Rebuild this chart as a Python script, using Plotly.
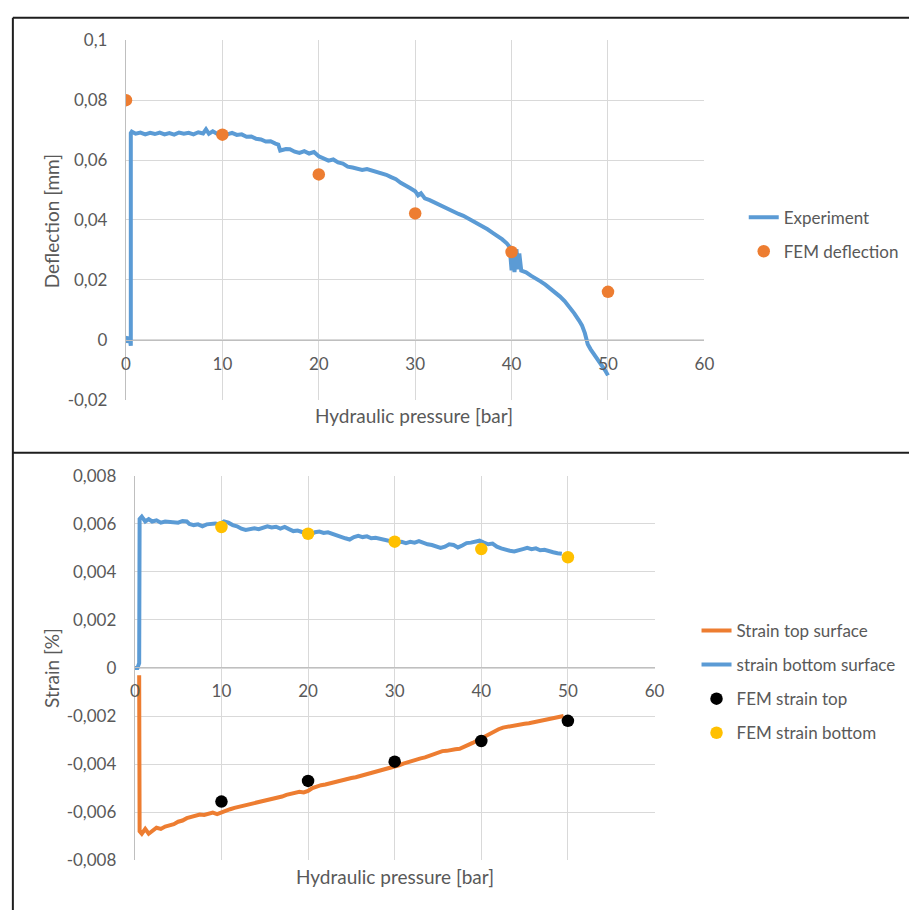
import plotly.graph_objects as go

W, H = 919, 920

# ---------------- data: top chart (deflection) ----------------
EXP_PRESSURE = [
    0.0, 0.15, 0.2, 0.3, 0.35, 0.45, 0.5, 0.5, 0.6, 1.0,
    1.5, 2.0, 2.5, 3.0, 3.5, 4.0, 4.5, 5.0, 5.5, 6.0,
    6.5, 7.0, 7.5, 8.0, 8.3, 8.6, 9.0, 9.5, 10.0, 10.5,
    11.0, 11.5, 12.0, 12.5, 13.0, 13.5, 14.0, 14.5, 15.0, 15.5,
    15.8, 16.0, 16.3, 16.6, 17.0, 17.5, 18.0, 18.5, 19.0, 19.5,
    20.0, 20.5, 21.0, 21.5, 22.0, 22.5, 23.0, 23.5, 24.0, 24.5,
    25.0, 25.5, 26.0, 26.5, 27.0, 27.5, 28.0, 28.5, 29.0, 29.5,
    30.0, 30.3, 30.6, 31.0, 31.5, 32.0, 32.5, 33.0, 33.5, 34.0,
    34.5, 35.0, 35.5, 36.0, 36.5, 37.0, 37.5, 38.0, 38.5, 39.0,
    39.5, 39.8, 40.0, 40.1, 40.3, 40.5, 40.7, 40.8, 41.0, 41.5,
    42.0, 42.5, 43.0, 43.5, 44.0, 44.5, 45.0, 45.5, 46.0, 46.5,
    47.0, 47.3, 47.6, 47.9, 48.2, 48.5, 48.8, 49.1, 49.4, 49.7,
    50.0,
]
EXP_DEFLECTION = [
    0.0, 0.001, -0.001, 0.0, 0.001, -0.001, -0.002, 0.069, 0.0695, 0.0688,
    0.0692, 0.0686, 0.0691, 0.0687, 0.0692, 0.0686, 0.0690, 0.0685, 0.0692, 0.0688,
    0.0691, 0.0686, 0.0693, 0.0689, 0.0703, 0.0688, 0.0696, 0.0687, 0.0692, 0.0686,
    0.0691, 0.0684, 0.0686, 0.0678, 0.0679, 0.0671, 0.0669, 0.0662, 0.0663, 0.0655,
    0.0652, 0.0632, 0.0634, 0.0637, 0.0636, 0.0628, 0.0624, 0.0630, 0.0622, 0.0627,
    0.0613, 0.0607, 0.0598, 0.0602, 0.0592, 0.0588, 0.0578, 0.0575, 0.0572, 0.0567,
    0.0570, 0.0565, 0.0562, 0.0554, 0.0551, 0.0543, 0.0536, 0.0524, 0.0513, 0.0506,
    0.0496, 0.0482, 0.0489, 0.0472, 0.0466, 0.0458, 0.0452, 0.0442, 0.0437, 0.0428,
    0.0420, 0.0414, 0.0405, 0.0398, 0.0388, 0.0379, 0.0369, 0.0358, 0.0348, 0.0336,
    0.0322, 0.0310, 0.0232, 0.0295, 0.0226, 0.0302, 0.0235, 0.0288, 0.0231, 0.0225,
    0.0214, 0.0206, 0.0195, 0.0184, 0.0172, 0.0159, 0.0145, 0.0129, 0.0110, 0.0088,
    0.0064, 0.0048, 0.0022, -0.0015, -0.0032, -0.0045, -0.0063, -0.0076, -0.0088, -0.0102,
    -0.0119,
]
FEM_PRESSURE = [0, 10, 20, 30, 40, 50]
FEM_DEFLECTION = [0.080, 0.0685, 0.0552, 0.0422, 0.0293, 0.0160]

# ---------------- data: bottom chart (strain) ----------------
BOT_PRESSURE = [
    0.0, 0.3, 0.5, 0.55, 0.8, 1.2, 1.6, 2.0, 2.5, 3.0,
    3.5, 4.0, 4.5, 5.0, 5.5, 6.0, 6.3, 6.8, 7.3, 7.8,
    8.3, 8.8, 9.3, 9.8, 10.3, 10.8, 11.3, 11.8, 12.3, 12.8,
    13.3, 13.8, 14.3, 14.8, 15.3, 15.8, 16.3, 16.8, 17.3, 17.8,
    18.3, 18.8, 19.3, 19.8, 20.3, 20.8, 21.3, 21.8, 22.3, 22.8,
    23.3, 23.8, 24.3, 24.8, 25.3, 25.8, 26.3, 26.8, 27.3, 27.8,
    28.3, 28.8, 29.3, 29.8, 30.3, 30.8, 31.3, 31.8, 32.3, 32.8,
    33.3, 33.8, 34.3, 34.8, 35.3, 35.8, 36.3, 36.8, 37.3, 37.8,
    38.3, 38.8, 39.3, 39.8, 40.3, 40.8, 41.3, 41.8, 42.3, 42.8,
    43.3, 43.8, 44.3, 44.8, 45.3, 45.8, 46.3, 46.8, 47.3, 47.8,
    48.3, 48.8, 49.3,
]
STRAIN_BOTTOM = [
    0.0, 0.0, 0.0002, 0.0062, 0.0063, 0.0061, 0.0062, 0.0061, 0.00615, 0.00605,
    0.0061, 0.00608, 0.0061, 0.00605, 0.00612, 0.0061, 0.0060, 0.00595, 0.00598, 0.0059,
    0.00598, 0.0060, 0.00602, 0.00598, 0.0061, 0.00605, 0.00595, 0.0059, 0.0058, 0.00575,
    0.00578, 0.00582, 0.00578, 0.00585, 0.0059, 0.00585, 0.00588, 0.0058, 0.00587, 0.00578,
    0.0057, 0.00572, 0.00565, 0.0056, 0.00556, 0.00565, 0.00568, 0.00562, 0.00565, 0.00558,
    0.0055, 0.00545, 0.0054, 0.00535, 0.00545, 0.0055, 0.00545, 0.00548, 0.0054, 0.00542,
    0.00538, 0.00535, 0.0053, 0.00528, 0.00522, 0.00525, 0.0052, 0.00525, 0.00522, 0.00528,
    0.0052, 0.00515, 0.00512, 0.00508, 0.0050, 0.00505, 0.00515, 0.00512, 0.00502, 0.0051,
    0.0052, 0.00522, 0.00525, 0.0053, 0.00522, 0.00515, 0.00518, 0.00505, 0.00498, 0.00492,
    0.00488, 0.00485, 0.00488, 0.00495, 0.0050, 0.00495, 0.00498, 0.0049, 0.00492, 0.00485,
    0.00482, 0.00478, 0.00476,
]
TOP_PRESSURE = [
    0.5, 0.55, 0.8, 1.2, 1.6, 2.0, 2.5, 3.0, 3.5, 4.0,
    4.5, 5.0, 5.5, 6.0, 6.5, 7.0, 7.5, 8.0, 8.5, 9.0,
    9.5, 10.0, 10.5, 11.0, 11.5, 12.0, 12.5, 13.0, 13.5, 14.0,
    14.5, 15.0, 15.5, 16.0, 16.5, 17.0, 17.5, 18.0, 18.5, 19.0,
    19.5, 20.0, 20.5, 21.0, 21.5, 22.0, 22.5, 23.0, 23.5, 24.0,
    24.5, 25.0, 25.5, 26.0, 26.5, 27.0, 27.5, 28.0, 28.5, 29.0,
    29.5, 30.0, 30.5, 31.0, 31.5, 32.0, 32.5, 33.0, 33.5, 34.0,
    34.5, 35.0, 35.5, 36.0, 36.5, 37.0, 37.5, 38.0, 38.5, 39.0,
    39.5, 40.0, 40.5, 41.0, 41.5, 42.0, 42.5, 43.0, 43.5, 44.0,
    44.5, 45.0, 45.5, 46.0, 46.5, 47.0, 47.5, 48.0, 48.5, 49.0,
    49.5,
]
STRAIN_TOP = [
    -0.0003, -0.0068, -0.0069, -0.0067, -0.0069, -0.0068, -0.00665, -0.0067, -0.0066, -0.00655,
    -0.0065, -0.0064, -0.00635, -0.00625, -0.0062, -0.00615, -0.0061, -0.00612, -0.00605, -0.00602,
    -0.00608, -0.0060, -0.00595, -0.00588, -0.00582, -0.00578, -0.00574, -0.00568, -0.00565, -0.0056,
    -0.00556, -0.00552, -0.00548, -0.00544, -0.0054, -0.00535, -0.00528, -0.00525, -0.0052, -0.00515,
    -0.00518, -0.00512, -0.0050, -0.00492, -0.00488, -0.00485, -0.0048, -0.00476, -0.00472, -0.00468,
    -0.00464, -0.00458, -0.00455, -0.0045, -0.00444, -0.0044, -0.00436, -0.0043, -0.00425, -0.0042,
    -0.00418, -0.00412, -0.00405, -0.00398, -0.00392, -0.00385, -0.0038, -0.00376, -0.00372, -0.00365,
    -0.00358, -0.0035, -0.00346, -0.00345, -0.0034, -0.00338, -0.00336, -0.0033, -0.0032, -0.00312,
    -0.00302, -0.00292, -0.00282, -0.00272, -0.00262, -0.00255, -0.00248, -0.00244, -0.0024, -0.00238,
    -0.00236, -0.00232, -0.0023, -0.00226, -0.00224, -0.00218, -0.00212, -0.00208, -0.00204, -0.00202,
    -0.0020,
]
FEM_STRAIN_PRESSURE = [10, 20, 30, 40, 50]
FEM_STRAIN_TOP = [-0.00556, -0.0047, -0.0039, -0.00304, -0.0022]
FEM_STRAIN_BOTTOM = [0.00587, 0.00559, 0.00526, 0.00495, 0.00461]

# ---------------- tick labels ----------------
X_TICKS = [0, 10, 20, 30, 40, 50, 60]
X_LABELS = ["0", "10", "20", "30", "40", "50", "60"]
Y1_TICKS = [-0.02, 0, 0.02, 0.04, 0.06, 0.08, 0.1]
Y1_LABELS = ["-0,02", "0", "0,02", "0,04", "0,06", "0,08", "0,1"]
Y2_TICKS = [-0.008, -0.006, -0.004, -0.002, 0, 0.002, 0.004, 0.006, 0.008]
Y2_LABELS = ["-0,008", "-0,006", "-0,004", "-0,002", "0", "0,002", "0,004", "0,006", "0,008"]

BLUE = "#5B9BD5"
ORANGE = "#ED7D31"
YELLOW = "#FFC000"
TEXT = "#595959"
GRID = "#D9D9D9"
AXIS = "#BFBFBF"
FONT = "Lato"


def fx(px):
    return px / W


def fy(py):
    return 1 - py / H


fig = go.Figure()

# top chart
fig.add_trace(go.Scatter(x=EXP_PRESSURE, y=EXP_DEFLECTION, mode="lines", name="Experiment",
                         line=dict(color=BLUE, width=4), xaxis="x", yaxis="y",
                         legend="legend", legendgroup="a"))
fig.add_trace(go.Scatter(x=FEM_PRESSURE, y=FEM_DEFLECTION, mode="markers", name="FEM deflection",
                         marker=dict(color=ORANGE, size=12.5), xaxis="x", yaxis="y",
                         legend="legend", legendgroup="b"))

# bottom chart
fig.add_trace(go.Scatter(x=TOP_PRESSURE, y=STRAIN_TOP, mode="lines", name="Strain top surface",
                         line=dict(color=ORANGE, width=4), xaxis="x2", yaxis="y2",
                         legend="legend2", legendgroup="c"))
fig.add_trace(go.Scatter(x=BOT_PRESSURE, y=STRAIN_BOTTOM, mode="lines", name="strain bottom surface",
                         line=dict(color=BLUE, width=4), xaxis="x2", yaxis="y2",
                         legend="legend2", legendgroup="d"))
fig.add_trace(go.Scatter(x=FEM_STRAIN_PRESSURE, y=FEM_STRAIN_TOP, mode="markers", name="FEM strain top",
                         marker=dict(color="black", size=12.5), xaxis="x2", yaxis="y2",
                         legend="legend2", legendgroup="e"))
fig.add_trace(go.Scatter(x=FEM_STRAIN_PRESSURE, y=FEM_STRAIN_BOTTOM, mode="markers", name="FEM strain bottom",
                         marker=dict(color=YELLOW, size=12.5), xaxis="x2", yaxis="y2",
                         legend="legend2", legendgroup="f"))

tickfont = dict(family=FONT, size=17, color=TEXT)

xcommon = dict(range=[0, 60], tickvals=X_TICKS, ticktext=X_LABELS, showgrid=True, gridcolor=GRID,
               gridwidth=1, zeroline=False, showline=True, linecolor=AXIS, linewidth=1.3,
               ticks="outside", ticklen=8, tickcolor="rgba(0,0,0,0)", tickfont=tickfont,
               anchor="free", fixedrange=True)
ycommon = dict(showgrid=True, gridcolor=GRID, gridwidth=1, zeroline=False, showline=True,
               linecolor=AXIS, linewidth=1.3, ticks="outside", ticklen=14,
               tickcolor="rgba(0,0,0,0)", tickfont=tickfont, fixedrange=True)

legend_font = dict(family=FONT, size=17, color=TEXT)

fig.update_layout(
    width=W, height=H, autosize=False,
    margin=dict(l=0, r=0, t=0, b=0),
    paper_bgcolor="white", plot_bgcolor="white",
    font=dict(family=FONT, color=TEXT),
    xaxis=dict(xcommon, domain=[fx(123), fx(711)], position=fy(336.7)),
    yaxis=dict(ycommon, domain=[fy(397.7), fy(30)], range=[-0.02, 0.1],
               tickvals=Y1_TICKS, ticktext=Y1_LABELS, anchor="x"),
    xaxis2=dict(xcommon, domain=[fx(132), fx(660.3)], position=fy(671.7)),
    yaxis2=dict(ycommon, domain=[fy(869), fy(475.7)], range=[-0.008, 0.008],
                tickvals=Y2_TICKS, ticktext=Y2_LABELS, anchor="x2"),
    legend=dict(x=fx(751), y=fy(193), xanchor="left", yanchor="top",
                font=legend_font, bgcolor="rgba(0,0,0,0)",
                tracegroupgap=9, itemclick=False),
    legend2=dict(x=fx(703), y=fy(616), xanchor="left", yanchor="top",
                 font=legend_font, bgcolor="rgba(0,0,0,0)",
                 tracegroupgap=9, itemclick=False),
    showlegend=True,
)

title_font = dict(family=FONT, size=19, color=TEXT)
fig.add_annotation(text="Hydraulic pressure [bar]", x=fx(416), y=fy(414), xref="paper", yref="paper",
                   showarrow=False, font=title_font, xanchor="center", yanchor="middle")
fig.add_annotation(text="Deflection [mm]", x=fx(47), y=fy(215), xref="paper", yref="paper",
                   showarrow=False, font=title_font, textangle=-90, xanchor="center", yanchor="middle")
fig.add_annotation(text="Hydraulic pressure [bar]", x=fx(396), y=fy(886), xref="paper", yref="paper",
                   showarrow=False, font=title_font, xanchor="center", yanchor="middle")
fig.add_annotation(text="Strain [%]", x=fx(47), y=fy(672), xref="paper", yref="paper",
                   showarrow=False, font=title_font, textangle=-90, xanchor="center", yanchor="middle")

# panel borders
border = dict(color="#1E1E1E", width=2)
fig.add_shape(type="line", xref="paper", yref="paper", x0=fx(8), x1=1, y0=fy(7), y1=fy(7), line=border)
fig.add_shape(type="line", xref="paper", yref="paper", x0=fx(8), x1=1, y0=fy(452), y1=fy(452), line=border)
fig.add_shape(type="line", xref="paper", yref="paper", x0=fx(8), x1=fx(8), y0=fy(7), y1=0, line=border)

fig.write_html(
    "out.html",
    config={"displayModeBar": False},
    post_script="document.body.style.margin='0';document.body.style.padding='0';"
                "document.documentElement.style.overflow='hidden';",
)
